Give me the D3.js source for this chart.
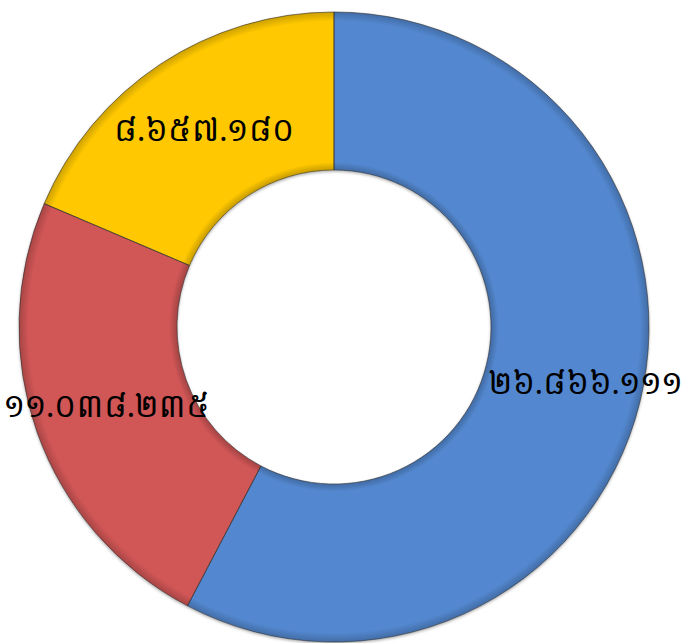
<!DOCTYPE html>
<html>
<head>
<meta charset="utf-8">
<script src="https://cdn.jsdelivr.net/npm/d3@7"></script>
<style>
  body { margin: 0; background: #fff; }
</style>
</head>
<body>
<div id="chart"></div>
<script>
// Chart data
const categories = ["A", "B", "C"];
const values = [26866111, 11038235, 8657180];
const labels = ["២៦.៨៦៦.១១១", "១១.០៣៨.២៣៥", "៨.៦៥៧.១៨០"];
const colors = ["#5388d0", "#d15656", "#ffc800"];

const width = 691;
const height = 643;
const cx = 334, cy = 327;
const outerRadius = 315;
const innerRadius = 157;

const svg = d3.select("#chart")
    .append("svg")
    .attr("width", width)
    .attr("height", height);

const defs = svg.append("defs");

// Soft bevel: darken only near the inner and outer edges
const grad = defs.append("radialGradient")
    .attr("id", "bevel")
    .attr("gradientUnits", "userSpaceOnUse")
    .attr("cx", 0).attr("cy", 0).attr("r", outerRadius);
const r0 = innerRadius / outerRadius;
grad.append("stop").attr("offset", r0).attr("stop-color", "#000").attr("stop-opacity", 0.22);
grad.append("stop").attr("offset", r0 + 0.025).attr("stop-color", "#000").attr("stop-opacity", 0);
grad.append("stop").attr("offset", 0.97).attr("stop-color", "#000").attr("stop-opacity", 0);
grad.append("stop").attr("offset", 1).attr("stop-color", "#000").attr("stop-opacity", 0.2);

// Faint shadow around the ring
const shadow = defs.append("filter")
    .attr("id", "shadow")
    .attr("x", "-10%").attr("y", "-10%")
    .attr("width", "120%").attr("height", "120%");
shadow.append("feDropShadow")
    .attr("dx", 0).attr("dy", 1.5)
    .attr("stdDeviation", 1.5)
    .attr("flood-color", "#000")
    .attr("flood-opacity", 0.35);

const g = svg.append("g").attr("transform", `translate(${cx},${cy})`);

const data = categories.map((c, i) => ({ category: c, value: values[i], label: labels[i], color: colors[i] }));

const pie = d3.pie()
    .value(d => d.value)
    .sort(null);

const arc = d3.arc()
    .innerRadius(innerRadius)
    .outerRadius(outerRadius);

const arcs = pie(data);

// Slices
g.append("g")
    .attr("filter", "url(#shadow)")
    .selectAll("path.slice")
    .data(arcs)
    .enter()
    .append("path")
    .attr("class", "slice")
    .attr("d", arc)
    .attr("fill", d => d.data.color);

// Bevel overlay
g.selectAll("path.bevel")
    .data(arcs)
    .enter()
    .append("path")
    .attr("class", "bevel")
    .attr("d", arc)
    .attr("fill", "url(#bevel)")
    .attr("stroke", "#333")
    .attr("stroke-opacity", 0.6)
    .attr("stroke-width", 1);

// Labels start at the ring's centroid, then get pushed off the hole
// and kept inside the picture
g.selectAll("text.label")
    .data(arcs)
    .enter()
    .append("text")
    .attr("class", "label")
    .attr("text-anchor", "middle")
    .attr("dy", "0.35em")
    .style("font-family", "'Khmer OS', 'Noto Serif Khmer', 'Noto Sans Khmer', 'Khmer OS System', serif")
    .style("font-size", "31px")
    .style("fill", "#000")
    .text(d => d.data.label)
    .attr("transform", function(d) {
        const w = this.getComputedTextLength();
        let [x, y] = arc.centroid(d);
        const hw = Math.sqrt(Math.max(0, innerRadius * innerRadius - y * y));
        if (x > 0) x = Math.max(x, hw + 8 + w / 2);
        else x = Math.min(x, -hw - 8 - w / 2);
        x = Math.max(x, -cx + 4 + w / 2);
        x = Math.min(x, width - cx - 4 - w / 2);
        return `translate(${x},${y})`;
    });
</script>
</body>
</html>
